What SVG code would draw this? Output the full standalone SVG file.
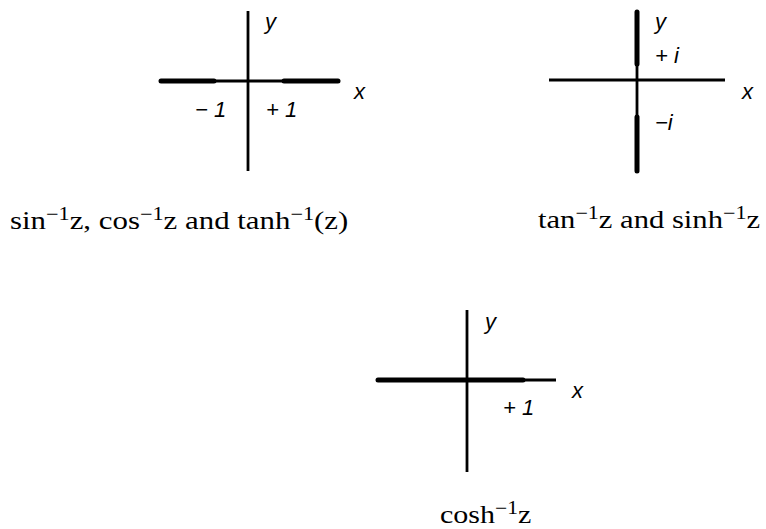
<svg xmlns="http://www.w3.org/2000/svg" width="766" height="529" viewBox="0 0 766 529">
<style>
.thin{stroke:#000;stroke-width:2.8;fill:none}
.thick{stroke:#000;stroke-width:5;fill:none;stroke-linecap:round}
.lbl{font-family:"Liberation Sans",Arial,sans-serif;font-style:italic;font-size:22px;fill:#000}
.cap{font-family:"Liberation Serif","Times New Roman",serif;font-size:25px;fill:#000}
.sup{font-size:18px}
</style>
<rect width="766" height="529" fill="#fff"/>
<g id="plane1">
<line class="thin" x1="248" y1="11" x2="248" y2="171"/>
<line class="thin" x1="160" y1="81" x2="339" y2="81"/>
<line class="thick" x1="161" y1="81" x2="214" y2="81"/>
<line class="thick" x1="284" y1="81" x2="338" y2="81"/>
<text class="lbl" x="265" y="29">y</text>
<text class="lbl" x="354" y="99">x</text>
<text class="lbl" x="195" y="117">− 1</text>
<text class="lbl" x="266" y="117">+ 1</text>
</g>
<g id="plane2">
<line class="thin" x1="637" y1="11" x2="637" y2="172"/>
<line class="thick" x1="637" y1="12" x2="637" y2="64"/>
<line class="thick" x1="637" y1="117" x2="637" y2="171"/>
<line class="thin" x1="549" y1="80" x2="725" y2="80"/>
<text class="lbl" x="655" y="29">y</text>
<text class="lbl" x="655" y="63">+ i</text>
<text class="lbl" x="742" y="99">x</text>
<text class="lbl" x="655" y="130">−i</text>
</g>
<g id="plane3">
<line class="thin" x1="467" y1="310" x2="467" y2="472"/>
<line class="thin" x1="377" y1="380" x2="556" y2="380"/>
<line class="thick" x1="378" y1="380" x2="523" y2="380"/>
<text class="lbl" x="485" y="329">y</text>
<text class="lbl" x="572" y="398">x</text>
<text class="lbl" x="503" y="415">+ 1</text>
</g>
<g id="captions">
<text class="cap" transform="translate(10,229) scale(1.235,1)">sin<tspan class="sup" dy="-9">−1</tspan><tspan dy="9">z, cos</tspan><tspan class="sup" dy="-9">−1</tspan><tspan dy="9">z and tanh</tspan><tspan class="sup" dy="-9">−1</tspan><tspan dy="9">(z)</tspan></text>
<text class="cap" transform="translate(538,228) scale(1.225,1)">tan<tspan class="sup" dy="-9">−1</tspan><tspan dy="9">z and sinh</tspan><tspan class="sup" dy="-9">−1</tspan><tspan dy="9">z</tspan></text>
<text class="cap" transform="translate(440,523) scale(1.2,1)">cosh<tspan class="sup" dy="-9">−1</tspan><tspan dy="9">z</tspan></text>
</g>
</svg>
